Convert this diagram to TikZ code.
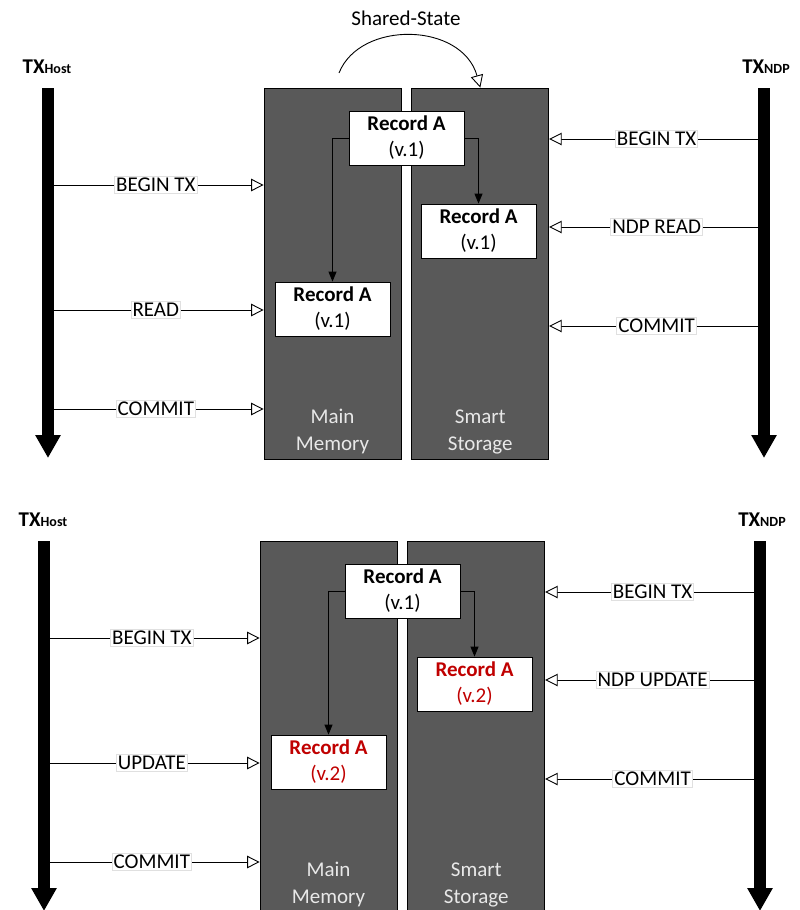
\documentclass[tikz,border=0pt]{standalone}
\usepackage{fontspec}
\setmainfont{Carlito}
\usetikzlibrary{arrows.meta,positioning}
\definecolor{memgray}{HTML}{595959}
\definecolor{memtext}{HTML}{E8E8E8}
\definecolor{verred}{HTML}{C00000}
\begin{document}
\begin{tikzpicture}[
    x=1pt, y=1pt,
    node distance=10pt,
    membox/.style={
        rectangle, draw=black, fill=memgray, line width=0.8pt,
        minimum width=137pt, minimum height=371pt, inner sep=0pt
    },
    recbox/.style={
        rectangle, draw=black, fill=white, line width=0.8pt,
        minimum width=115pt, minimum height=54pt, inner sep=0pt,
        align=center, font=\fontsize{21}{26}\selectfont
    },
    evlabel/.style={
        rectangle, draw=black!12, fill=white, inner sep=1.5pt,
        font=\fontsize{21}{24}\selectfont
    },
    memlabel/.style={
        anchor=south, align=center, text=memtext, inner sep=0pt,
        font=\fontsize{21}{27}\selectfont
    },
    txlabel/.style={font=\fontsize{21}{24}\selectfont\bfseries},
    timeline/.style={line width=12.5pt, -{Triangle[width=24pt,length=23pt]}},
    evarr/.style={line width=0.9pt, -{Triangle[open,fill=white,width=12.5pt,length=12.5pt]}},
    link/.style={line width=0.9pt, -{Triangle[width=8pt,length=10pt]}},
]
\useasboundingbox (0,0) rectangle (800,-910);

% Top panel: read
\node[membox] (memT) at (332.5,-273.5) {};
\node[membox, right=10pt of memT] (stoT) {};
\node[memlabel] (memlblT) at ([yshift=5pt]memT.south) {Main\\Memory};
\node[memlabel] (stolblT) at ([yshift=5pt]stoT.south) {Smart\\Storage};

\node[recbox] (recT) at (406.5,-138) {\textbf{Record A}\\(v.1)};
\node[recbox] (recmemT) at (332.5,-309) {\textbf{Record A}\\(v.1)};
\node[recbox] (recstoT) at (478.5,-231) {\textbf{Record A}\\(v.1)};
\draw[link] (recT.west) -| (recmemT.north);
\draw[link] (recT.east) -| (recstoT.north);

\node[txlabel] (hostT) at (47,-67) {TX{\fontsize{14}{16}\selectfont Host}};
\node[txlabel] (ndpT) at (766,-67) {TX{\fontsize{14}{16}\selectfont NDP}};
\coordinate (hostTtop) at (48,-88);
\coordinate (hostTend) at (48,-458);
\coordinate (ndpTtop) at (764,-88);
\coordinate (ndpTend) at (764,-458);

\draw[evarr] (hostTtop |- 0,-185) -- (memT.west |- 0,-185)
    node[evlabel, midway] (hbegT) {BEGIN TX};
\draw[evarr] (hostTtop |- 0,-310) -- (memT.west |- 0,-310)
    node[evlabel, midway] (hopT) {READ};
\draw[evarr] (hostTtop |- 0,-409) -- (memT.west |- 0,-409)
    node[evlabel, midway] (hcomT) {COMMIT};
\draw[evarr] (ndpTtop |- 0,-139) -- (stoT.east |- 0,-139)
    node[evlabel, midway] (nbegT) {BEGIN TX};
\draw[evarr] (ndpTtop |- 0,-227) -- (stoT.east |- 0,-227)
    node[evlabel, midway] (nopT) {NDP READ};
\draw[evarr] (ndpTtop |- 0,-326) -- (stoT.east |- 0,-326)
    node[evlabel, midway] (ncomT) {COMMIT};

\draw[timeline] (hostTtop) -- (hostTend);
\draw[timeline] (ndpTtop) -- (ndpTend);

% Shared state
\node[font=\fontsize{21}{24}\selectfont, anchor=base] (shared) at (406,-25) {Shared-State};
\coordinate (sharedS) at (339,-73);
\draw[evarr] (sharedS) .. controls (360,-20) and (462,-22) .. (stoT.north);

% Bottom panel: update
\begin{scope}[xshift=-4pt, yshift=-453pt]
\node[membox] (memB) at (332.5,-273.5) {};
\node[membox, right=10pt of memB] (stoB) {};
\node[memlabel] (memlblB) at ([yshift=5pt]memB.south) {Main\\Memory};
\node[memlabel] (stolblB) at ([yshift=5pt]stoB.south) {Smart\\Storage};

\node[recbox] (recB) at (406.5,-138) {\textbf{Record A}\\(v.1)};
\node[recbox, text=verred] (recmemB) at (332.5,-309) {\textbf{Record A}\\(v.2)};
\node[recbox, text=verred] (recstoB) at (478.5,-231) {\textbf{Record A}\\(v.2)};
\draw[link] (recB.west) -| (recmemB.north);
\draw[link] (recB.east) -| (recstoB.north);

\node[txlabel] (hostB) at (47,-67) {TX{\fontsize{14}{16}\selectfont Host}};
\node[txlabel] (ndpB) at (766,-67) {TX{\fontsize{14}{16}\selectfont NDP}};
\coordinate (hostBtop) at (48,-88);
\coordinate (hostBend) at (48,-458);
\coordinate (ndpBtop) at (764,-88);
\coordinate (ndpBend) at (764,-458);

\draw[evarr] (hostBtop |- 0,-185) -- (memB.west |- 0,-185)
    node[evlabel, midway] (hbegB) {BEGIN TX};
\draw[evarr] (hostBtop |- 0,-310) -- (memB.west |- 0,-310)
    node[evlabel, midway] (hopB) {UPDATE};
\draw[evarr] (hostBtop |- 0,-409) -- (memB.west |- 0,-409)
    node[evlabel, midway] (hcomB) {COMMIT};
\draw[evarr] (ndpBtop |- 0,-139) -- (stoB.east |- 0,-139)
    node[evlabel, midway] (nbegB) {BEGIN TX};
\draw[evarr] (ndpBtop |- 0,-227) -- (stoB.east |- 0,-227)
    node[evlabel, midway] (nopB) {NDP UPDATE};
\draw[evarr] (ndpBtop |- 0,-326) -- (stoB.east |- 0,-326)
    node[evlabel, midway] (ncomB) {COMMIT};

\draw[timeline] (hostBtop) -- (hostBend);
\draw[timeline] (ndpBtop) -- (ndpBend);
\end{scope}

\end{tikzpicture}
\end{document}
